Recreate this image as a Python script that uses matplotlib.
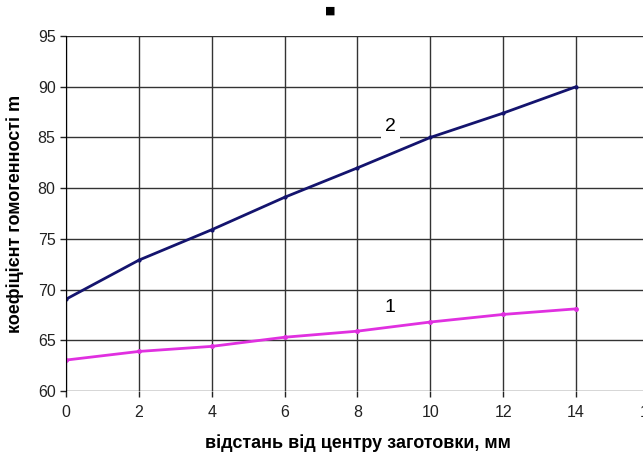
import matplotlib
matplotlib.use('Agg')
import matplotlib.pyplot as plt

x = [0, 2, 4, 6, 8, 10, 12, 14]
curve1 = [63.05, 63.9, 64.4, 65.3, 65.9, 66.8, 67.55, 68.1]
curve2 = [69.05, 72.9, 75.9, 79.1, 82.0, 85.0, 87.4, 90.0]
xticks = [0, 2, 4, 6, 8, 10, 12, 14, 16]
yticks = [60, 65, 70, 75, 80, 85, 90, 95]

plt.rcParams['font.family'] = ['Liberation Sans Narrow', 'Liberation Sans', 'DejaVu Sans']

fig = plt.figure(figsize=(6.43, 4.53), dpi=100)
ax = fig.add_axes([66 / 643, 1 - 391 / 453, 583 / 643, 355 / 453])

ax.plot(x, curve2, color='#14146e', lw=2, marker='o', ms=2)
ax.plot(x, curve1, color='#e030e0', lw=2, marker='o', ms=2.5)

ax.set_xlim(0, 16)
ax.set_ylim(60, 95)
ax.set_xticks(xticks)
ax.set_yticks(yticks)
ax.grid(True, color='#333333', lw=1)
ax.set_axisbelow(True)
for s in ['top', 'right', 'bottom']:
    ax.spines[s].set_visible(False)
ax.spines['left'].set_color('black')
ax.tick_params(axis='both', length=4, width=1, labelsize=11.5, colors='#222222')
ax.tick_params(axis='x', pad=6)

ax.text(8.9, 86.1, '2', fontsize=14, ha='center', va='center',
        family=['Liberation Sans', 'DejaVu Sans'],
        bbox=dict(facecolor='white', edgecolor='none', pad=3))
ax.text(8.9, 68.2, '1', fontsize=14, ha='center', va='center',
        family=['Liberation Sans', 'DejaVu Sans'])

ax.set_xlabel('відстань від центру заготовки, мм', fontsize=13, fontweight='bold',
              family=['Liberation Sans', 'DejaVu Sans'])
ax.set_ylabel('коефіцієнт гомогенності m', fontsize=13, fontweight='bold',
              family=['Liberation Sans', 'DejaVu Sans'], labelpad=10)
ax.xaxis.set_label_coords(0.5, -52 / 355)
ax.xaxis.label.set_va('center')

fig.text(330 / 643, 1 - 11 / 453, '■', fontsize=8, ha='center', va='center',
         family=['DejaVu Sans'])

fig.savefig('out.png', dpi=100)
